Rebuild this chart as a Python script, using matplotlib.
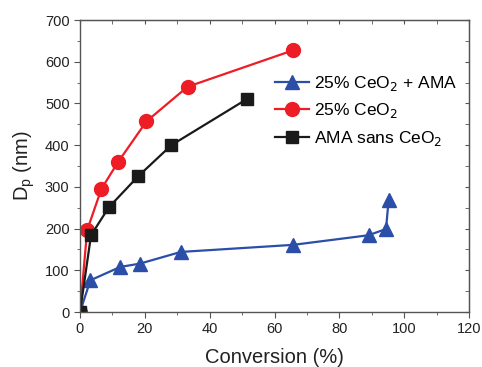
import numpy as np
import matplotlib.pyplot as plt
from matplotlib.ticker import MultipleLocator

# 25% CeO2 + AMA
convAma = [0, 3.2, 12.4, 18.5, 31.1, 65.8, 89.0, 94.4, 95.2]
dpAma = [0, 76, 108, 116, 144, 161, 184, 199, 268]

# 25% CeO2
convCe = [0, 2.2, 6.6, 11.7, 20.5, 33.2, 65.6]
dpCe = [0, 196, 295, 359, 457, 540, 627]

# AMA sans CeO2
convSans = [0, 3.4, 8.9, 17.9, 28.2, 51.6]
dpSans = [0, 184, 251, 325, 400, 511]

plt.rcParams['font.family'] = ['Liberation Sans', 'DejaVu Sans']
axisColor = '#555555'

fig = plt.figure(figsize=(4.82, 3.67), dpi=100)
ax = fig.add_axes([80/482, 55/367, 389/482, 292/367])

ax.plot(convAma, dpAma, color='#2b4ea8', marker='^', markersize=9.5, linewidth=1.6,
        label='25% CeO$_2$ + AMA')
ax.plot(convCe, dpCe, color='#ee1c24', marker='o', markersize=10, linewidth=1.6,
        label='25% CeO$_2$')
ax.plot(convSans, dpSans, color='#1a1a1a', marker='s', markersize=8, linewidth=1.6,
        label='AMA sans CeO$_2$')

ax.set_xlim(0, 120)
ax.set_ylim(0, 700)
ax.xaxis.set_major_locator(MultipleLocator(20))
ax.xaxis.set_minor_locator(MultipleLocator(10))
ax.yaxis.set_major_locator(MultipleLocator(100))
ax.yaxis.set_minor_locator(MultipleLocator(50))

for s in ax.spines.values():
    s.set_color(axisColor)
    s.set_linewidth(1.0)

ax.tick_params(which='both', direction='out', color=axisColor, labelsize=10.5,
               labelcolor='#222222')
ax.tick_params(which='major', length=4)
ax.tick_params(which='minor', length=2.5)

# ticks on top and right pointing in
top = ax.secondary_xaxis('top')
top.xaxis.set_major_locator(MultipleLocator(20))
top.xaxis.set_minor_locator(MultipleLocator(10))
top.tick_params(which='both', direction='in', color=axisColor, labeltop=False, length=3)
top.spines['top'].set_color(axisColor)
right = ax.secondary_yaxis('right')
right.yaxis.set_major_locator(MultipleLocator(100))
right.yaxis.set_minor_locator(MultipleLocator(50))
right.tick_params(which='both', direction='in', color=axisColor, labelright=False, length=3)
right.spines['right'].set_color(axisColor)

ax.set_xlabel('Conversion (%)', fontsize=14.5, color='#222222', labelpad=8)
ax.set_ylabel('D$_\\mathregular{p}$ (nm)', fontsize=14.5, color='#222222', labelpad=6)

ax.legend(loc='upper left', bbox_to_anchor=(0.46, 0.87), frameon=False, fontsize=12.5,
          handlelength=2.0, labelspacing=0.5, handletextpad=0.3)

fig.savefig('out.png', dpi=100)
